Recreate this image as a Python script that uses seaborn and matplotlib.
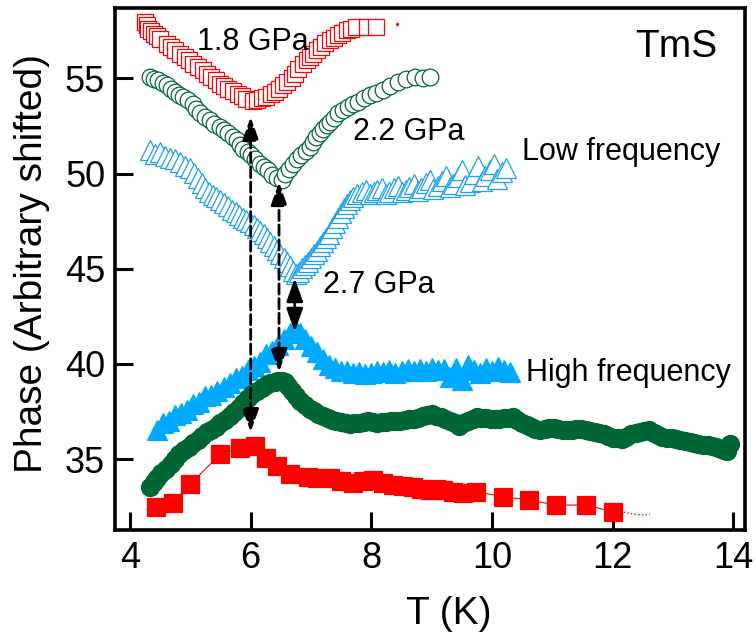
import matplotlib
matplotlib.use("Agg")
import matplotlib.pyplot as plt
import seaborn as sns
import pandas as pd

# 1.8 GPa, low frequency (open squares)
t_18_low = [4.25, 4.28, 4.30, 4.34, 4.39, 4.45, 4.50, 4.61, 4.68, 4.75, 4.83, 4.91, 4.98, 5.05,
            5.13, 5.21, 5.28, 5.35, 5.42, 5.49, 5.56, 5.63, 5.71, 5.79, 5.86, 5.93, 6.04, 6.10,
            6.18, 6.26, 6.33, 6.40, 6.47, 6.54, 6.61, 6.68, 6.74, 6.79, 6.86, 6.93, 6.98, 7.03,
            7.10, 7.17, 7.24, 7.31, 7.38, 7.45, 7.52, 7.59, 7.67, 7.75, 7.92, 8.08]
v_18_low = [57.95, 57.80, 57.62, 57.50, 57.36, 57.22, 57.10, 56.83, 56.66, 56.48, 56.30, 56.13,
            55.95, 55.78, 55.60, 55.43, 55.25, 55.08, 54.90, 54.73, 54.60, 54.47, 54.34, 54.21,
            54.08, 53.94, 53.80, 53.86, 53.95, 54.03, 54.16, 54.29, 54.46, 54.64, 54.82, 55.00,
            55.26, 55.52, 55.74, 55.96, 56.14, 56.31, 56.48, 56.66, 56.84, 57.01, 57.14, 57.27,
            57.40, 57.53, 57.62, 57.71, 57.71, 57.71]
t_18_low_tail = [8.42]
v_18_low_tail = [57.88]

# 2.2 GPa, low frequency (open circles)
t_22_low = [4.33, 4.40, 4.47, 4.54, 4.61, 4.68, 4.75, 4.82, 4.88, 4.96, 5.05, 5.10, 5.16, 5.24,
            5.32, 5.40, 5.49, 5.56, 5.63, 5.70, 5.77, 5.83, 5.88, 5.95, 6.01, 6.08, 6.15, 6.22,
            6.29, 6.36, 6.43, 6.52, 6.57, 6.63, 6.70, 6.77, 6.84, 6.91, 6.98, 7.04, 7.09, 7.15,
            7.20, 7.26, 7.31, 7.38, 7.45, 7.53, 7.61, 7.70, 7.78, 7.88, 7.97, 8.08, 8.19, 8.31,
            8.44, 8.58, 8.72, 8.85, 8.97]
v_22_low = [55.08, 54.98, 54.90, 54.78, 54.64, 54.46, 54.29, 54.15, 54.03, 53.86, 53.68, 53.40,
            53.16, 52.98, 52.80, 52.62, 52.45, 52.28, 52.11, 51.93, 51.75, 51.52, 51.32, 51.15,
            50.97, 50.75, 50.53, 50.36, 50.18, 49.95, 49.75, 49.65, 50.00, 50.26, 50.53, 50.75,
            50.97, 51.18, 51.40, 51.66, 51.93, 52.15, 52.37, 52.55, 52.72, 52.94, 53.16, 53.33,
            53.50, 53.64, 53.77, 53.95, 54.12, 54.25, 54.38, 54.60, 54.82, 54.95, 55.08, 55.05,
            55.08]

# 2.7 GPa, low frequency (open triangles)
t_27_low = [4.33, 4.42, 4.50, 4.58, 4.66, 4.75, 4.83, 4.91, 4.99, 5.06, 5.13, 5.19, 5.24, 5.31,
            5.37, 5.43, 5.49, 5.56, 5.62, 5.69, 5.75, 5.81, 5.87, 5.93, 5.99, 6.05, 6.10, 6.16,
            6.22, 6.27, 6.32, 6.38, 6.43, 6.49, 6.55, 6.60, 6.65, 6.70, 6.75, 6.80, 6.85, 6.90,
            6.95, 7.00, 7.05, 7.10, 7.15, 7.20, 7.25, 7.30, 7.34, 7.39, 7.44, 7.49, 7.54, 7.59,
            7.64, 7.70, 7.77, 7.84, 7.91, 7.98, 8.04, 8.10, 8.17, 8.24, 8.30, 8.37, 8.44, 8.50,
            8.57, 8.63, 8.70, 8.77, 8.83, 8.90, 8.97, 9.03, 9.10, 9.17, 9.23, 9.30, 9.36, 9.43,
            9.50, 9.56, 9.63, 9.70, 9.76, 9.83, 9.89, 9.96, 10.03, 10.09, 10.16, 10.24]
v_27_low = [51.23, 51.05, 51.12, 50.90, 50.81, 50.75, 50.60, 50.40, 50.28, 50.05, 49.76, 49.50,
            49.23, 49.05, 48.87, 48.75, 48.60, 48.45, 48.29, 48.10, 47.97, 47.80, 47.66, 47.58,
            47.45, 47.30, 47.13, 46.98, 46.82, 46.60, 46.40, 46.20, 45.98, 45.75, 45.56, 45.35,
            45.14, 44.90, 44.72, 44.85, 45.03, 45.20, 45.35, 45.55, 45.77, 45.95, 46.19, 46.40,
            46.61, 46.85, 47.13, 47.40, 47.66, 47.95, 48.18, 48.40, 48.60, 48.75, 48.92, 49.05,
            49.13, 48.95, 49.02, 49.15, 49.23, 48.95, 49.02, 49.25, 49.34, 49.05, 49.13, 49.30,
            49.44, 49.10, 49.23, 49.50, 49.65, 49.20, 49.34, 49.60, 49.86, 49.30, 49.44, 49.80,
            50.18, 49.40, 49.55, 50.00, 50.39, 49.60, 49.86, 50.20, 50.49, 49.70, 50.07, 50.28]

# 2.7 GPa, high frequency (filled triangles)
t_27_high = [4.45, 4.55, 4.65, 4.75, 4.85, 4.95, 5.05, 5.15, 5.25, 5.35, 5.45, 5.55, 5.65, 5.75,
             5.85, 5.95, 6.05, 6.15, 6.25, 6.35, 6.45, 6.55, 6.65, 6.73, 6.82, 6.90, 7.00, 7.10,
             7.20, 7.30, 7.40, 7.50, 7.60, 7.70, 7.80, 7.90, 8.00, 8.10, 8.20, 8.30, 8.40, 8.50,
             8.60, 8.70, 8.80, 8.90, 9.00, 9.10, 9.20, 9.30, 9.40, 9.50, 9.60, 9.70, 9.80, 9.90,
             10.00, 10.10, 10.20, 10.30]
v_27_high = [36.55, 36.90, 37.00, 37.30, 37.40, 37.60, 37.90, 38.00, 38.30, 38.35, 38.60, 38.80,
             39.00, 39.25, 39.35, 39.70, 39.90, 40.10, 40.50, 40.70, 41.00, 41.30, 41.60, 41.85,
             41.60, 41.30, 40.95, 40.60, 40.25, 39.95, 39.80, 39.65, 39.60, 39.50, 39.55, 39.45,
             39.50, 39.60, 39.55, 39.70, 39.50, 39.60, 39.75, 39.60, 39.75, 39.65, 39.80, 39.70,
             39.75, 39.30, 39.80, 39.15, 39.95, 39.70, 39.50, 39.80, 39.60, 39.85, 39.70, 39.55]

# 2.2 GPa, high frequency (filled circles)
t_22_high = [4.33, 4.40, 4.45, 4.52, 4.60, 4.68, 4.75, 4.82, 4.90, 4.98, 5.05, 5.12, 5.20, 5.28,
             5.35, 5.42, 5.50, 5.58, 5.65, 5.72, 5.80, 5.88, 5.95, 6.02, 6.10, 6.18, 6.25, 6.32,
             6.40, 6.46, 6.52, 6.57, 6.62, 6.68, 6.75, 6.82, 6.90, 6.98, 7.05, 7.12, 7.20, 7.28,
             7.35, 7.42, 7.50, 7.58, 7.65, 7.72, 7.80, 7.88, 7.95, 8.03, 8.10, 8.18, 8.25, 8.33,
             8.40, 8.48, 8.55, 8.62, 8.70, 8.78, 8.85, 8.92, 9.00, 9.08, 9.15, 9.22, 9.30, 9.38,
             9.45, 9.52, 9.60, 9.68, 9.75, 9.82, 9.90, 9.98, 10.05, 10.12, 10.20, 10.28, 10.35,
             10.42, 10.50, 10.58, 10.65, 10.72, 10.80, 10.88, 10.95, 11.02, 11.10, 11.18, 11.25,
             11.32, 11.40, 11.48, 11.55, 11.62, 11.70, 11.78, 11.85, 11.92, 12.00, 12.08, 12.15,
             12.22, 12.30, 12.38, 12.45, 12.52, 12.60, 12.68, 12.75, 12.82, 12.90, 12.98, 13.05,
             13.12, 13.20, 13.28, 13.35, 13.42, 13.50, 13.58, 13.65, 13.72, 13.80, 13.85, 13.90,
             13.95]
v_22_high = [33.55, 33.80, 34.00, 34.25, 34.50, 34.75, 35.00, 35.25, 35.50, 35.65, 35.85, 36.00,
             36.20, 36.40, 36.55, 36.70, 36.90, 37.05, 37.25, 37.45, 37.70, 37.95, 38.20, 38.40,
             38.60, 38.75, 38.90, 39.00, 39.05, 39.08, 39.10, 39.05, 38.85, 38.60, 38.30, 38.05,
             37.85, 37.65, 37.50, 37.38, 37.25, 37.15, 37.05, 37.00, 36.95, 36.90, 36.85, 36.88,
             36.90, 36.95, 37.00, 36.95, 36.90, 36.92, 36.95, 36.98, 37.00, 37.02, 37.05, 37.08,
             37.10, 37.18, 37.25, 37.30, 37.35, 37.28, 37.20, 37.10, 37.00, 36.88, 36.75, 36.88,
             37.00, 37.10, 37.20, 37.18, 37.15, 37.12, 37.10, 37.12, 37.15, 37.18, 37.20, 37.05,
             36.90, 36.80, 36.70, 36.60, 36.50, 36.58, 36.65, 36.62, 36.60, 36.55, 36.50, 36.55,
             36.60, 36.58, 36.55, 36.48, 36.40, 36.35, 36.30, 36.20, 36.10, 36.08, 36.05, 36.18,
             36.30, 36.35, 36.40, 36.45, 36.50, 36.38, 36.25, 36.18, 36.10, 36.08, 36.05, 36.00,
             35.95, 35.90, 35.85, 35.80, 35.75, 35.72, 35.70, 35.62, 35.55, 35.48, 35.40, 35.80]

# 1.8 GPa, high frequency (filled squares)
t_18_high = [4.43, 4.71, 5.00, 5.50, 5.83, 6.07, 6.25, 6.43, 6.65, 6.95, 7.10, 7.31, 7.50, 7.70,
             7.87, 8.03, 8.20, 8.36, 8.52, 8.69, 8.83, 8.97, 9.08, 9.19, 9.35, 9.52, 9.74, 10.18,
             10.62, 11.06, 11.56, 12.00]
v_18_high = [32.48, 32.70, 33.69, 35.26, 35.58, 35.68, 35.07, 34.64, 34.21, 34.07, 34.02, 33.98,
             33.85, 33.72, 33.82, 33.90, 33.75, 33.63, 33.58, 33.55, 33.45, 33.37, 33.40, 33.37,
             33.28, 33.20, 33.28, 33.02, 32.85, 32.58, 32.58, 32.23]
t_18_high_tail = [12.00, 12.20, 12.35, 12.50, 12.62]
v_18_high_tail = [32.23, 32.20, 32.10, 32.05, 32.10]

# arrows: x, upper tip, lower tip, dashed?
arrow_x = [6.00, 6.47, 6.73]
arrow_top = [52.98, 49.55, 44.50]
arrow_bottom = [36.42, 39.58, 41.69]
arrow_dashed = [True, True, False]

red = "#ff0000"
green = "#006633"
blue = "#00aaff"
blue_open = "#1ea0f0"

sns.set_style("white")
plt.rcParams["font.family"] = ["Liberation Sans", "DejaVu Sans"]
plt.rcParams["text.color"] = "k"
plt.rcParams["axes.labelcolor"] = "k"
plt.rcParams["xtick.color"] = "k"
plt.rcParams["ytick.color"] = "k"

fig = plt.figure(figsize=(7.56, 6.37), dpi=100)
ax = fig.add_axes([0.152, 0.168, 0.834, 0.819])


def draw(t, v, marker, size, color, filled, lw=0.8, mew=0.9, z=2):
    df = pd.DataFrame({"T": t, "phase": v})
    sns.lineplot(data=df, x="T", y="phase", ax=ax, sort=False, estimator=None,
                 color=color, lw=lw, marker=marker, markersize=size,
                 markerfacecolor=color if filled else "white",
                 markeredgecolor=color, markeredgewidth=mew, zorder=z)


draw(t_18_low, v_18_low, "s", 12, red, False, lw=0)
draw(t_22_low, v_22_low, "o", 12, green, False, lw=0)
draw(t_27_low, v_27_low, "^", 14, blue_open, False, lw=0)
draw(t_27_high, v_27_high, "^", 14, blue, True)
draw(t_22_high, v_22_high, "o", 13, green, True)
draw(t_18_high, v_18_high, "s", 13, red, True)
sns.lineplot(x=t_18_high_tail, y=v_18_high_tail, ax=ax, sort=False, estimator=None,
             color=red, lw=1, ls=":")
sns.scatterplot(x=t_18_low_tail, y=v_18_low_tail, ax=ax, color=red, s=5, edgecolor=red)

for x, top, bot, dashed in zip(arrow_x, arrow_top, arrow_bottom, arrow_dashed):
    ax.annotate("", xy=(x, top), xytext=(x, bot),
                arrowprops=dict(arrowstyle="<|-|>,head_length=0.7,head_width=0.25",
                                color="k", lw=2, ls="--" if dashed else "-",
                                mutation_scale=20, shrinkA=0, shrinkB=0),
                zorder=5)

ax.text(5.11, 56.9, "1.8 GPa", fontsize=22, va="center", ha="left")
ax.text(7.69, 52.17, "2.2 GPa", fontsize=22, va="center", ha="left")
ax.text(7.20, 44.14, "2.7 GPa", fontsize=22, va="center", ha="left")
ax.text(10.49, 51.12, "Low frequency", fontsize=22, va="center", ha="left")
ax.text(10.57, 39.52, "High frequency", fontsize=22, va="center", ha="left")
ax.text(13.74, 56.64, "TmS", fontsize=28, va="center", ha="right")

ax.set_xlim(3.75, 14.2)
ax.set_ylim(31.27, 58.69)
ax.set_xticks([4, 6, 8, 10, 12, 14])
ax.set_yticks([35, 40, 45, 50, 55])
ax.tick_params(axis="both", direction="in", length=13, width=2.2, labelsize=26,
               bottom=True, left=True, top=False, right=False, color="k")
ax.tick_params(axis="x", pad=8)
ax.tick_params(axis="y", pad=7)
for s in ax.spines.values():
    s.set_linewidth(2.6)
    s.set_color("k")

ax.set_xlabel("T (K)", fontsize=28)
ax.set_ylabel("Phase (Arbitrary shifted)", fontsize=28)
ax.xaxis.set_label_coords(0.53, -0.126)
ax.yaxis.set_label_coords(-0.103, 0.511)

fig.savefig("out.png", dpi=100)
